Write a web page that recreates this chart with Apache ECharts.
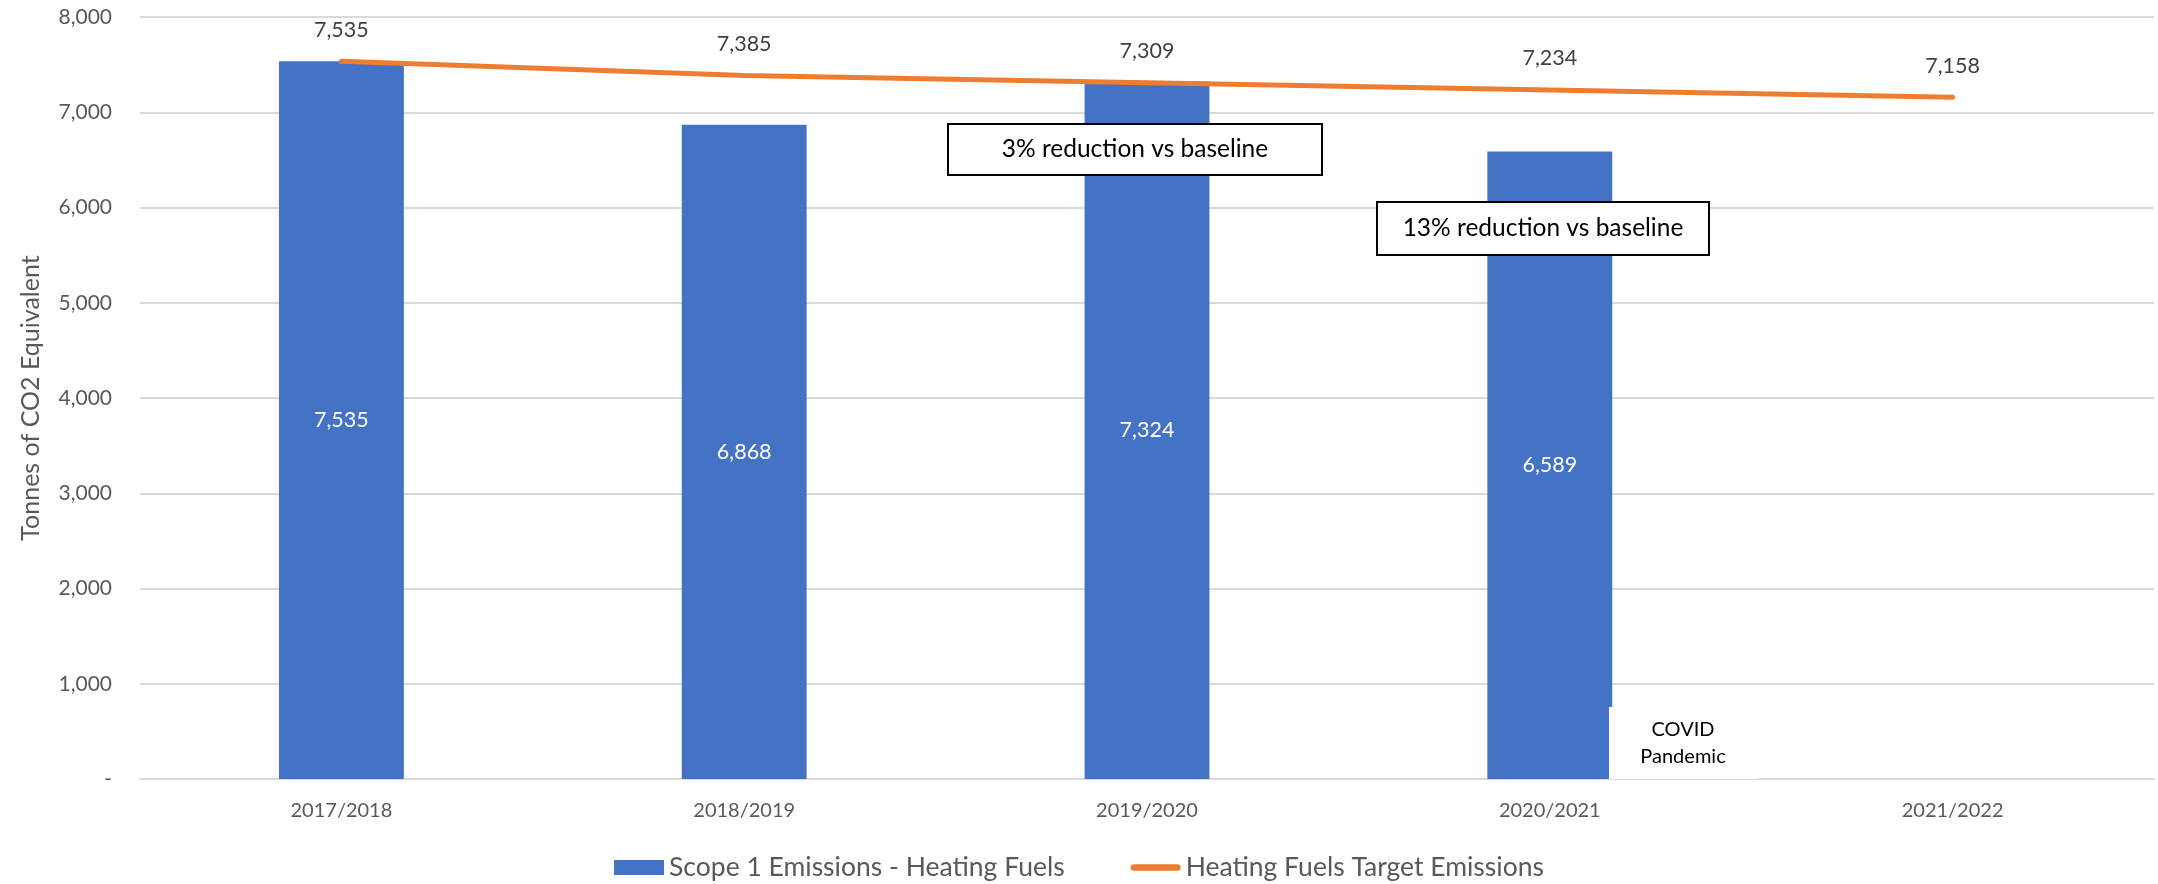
<!DOCTYPE html>
<html>
<head>
<meta charset="utf-8">
<script src="https://cdn.jsdelivr.net/npm/echarts@6/dist/echarts.min.js"></script>
<style>
  html, body { margin: 0; padding: 0; background: #fff; }
  #chart { width: 2158px; height: 884px; }
</style>
</head>
<body>
<div id="chart"></div>
<script>
var years = ['2017/2018', '2018/2019', '2019/2020', '2020/2021', '2021/2022'];
var heatingFuels = [7535, 6868, 7324, 6589, null];
var targetEmissions = [7535, 7385, 7309, 7234, 7158];
var yTicks = [0, 1000, 2000, 3000, 4000, 5000, 6000, 7000, 8000];

var FONT = 'Lato';

function fmt(v) {
    if (v === 0) return '-';
    return String(v).replace(/\B(?=(\d{3})+(?!\d))/g, ',');
}

var chart = echarts.init(document.getElementById('chart'));

var option = {
    animation: false,
    textStyle: { fontFamily: FONT },
    grid: { left: 140, right: 4, top: 17, bottom: 105 },
    legend: {
        top: 849,
        left: 'center',
        itemGap: 66,
        itemWidth: 50,
        itemHeight: 15,
        textStyle: { fontSize: 26.5, color: '#595959', fontFamily: FONT },
        data: [
            { name: 'Scope 1 Emissions - Heating Fuels', icon: 'rect' },
            { name: 'Heating Fuels Target Emissions',
              icon: 'path://M3.5,0 L50.5,0 A3.5,3.5 0 0 1 50.5,7 L3.5,7 A3.5,3.5 0 0 1 3.5,0 Z' }
        ]
    },
    xAxis: {
        type: 'category',
        data: years,
        axisLine: { lineStyle: { color: '#D9D9D9', width: 2 } },
        axisTick: { show: false },
        axisLabel: { color: '#595959', fontSize: 20, margin: 22 }
    },
    yAxis: {
        type: 'value',
        min: yTicks[0],
        max: yTicks[yTicks.length - 1],
        interval: 1000,
        name: 'Tonnes of CO2 Equivalent',
        nameLocation: 'middle',
        nameGap: 97,
        nameTextStyle: { color: '#595959', fontSize: 25 },
        axisLine: { show: false },
        axisTick: { show: false },
        splitLine: { lineStyle: { color: '#D9D9D9', width: 2 } },
        axisLabel: { color: '#595959', fontSize: 21, margin: 28, formatter: fmt }
    },
    series: [
        {
            name: 'Scope 1 Emissions - Heating Fuels',
            type: 'bar',
            data: heatingFuels,
            barWidth: '31%',
            itemStyle: { color: '#4472C4' },
            label: {
                show: true,
                position: 'inside',
                color: '#fff',
                fontSize: 21.5,
                formatter: function (p) { return fmt(p.value); }
            }
        },
        {
            name: 'Heating Fuels Target Emissions',
            type: 'line',
            data: targetEmissions,
            symbol: 'circle',
            symbolSize: 1,
            z: 5,
            lineStyle: { color: '#ED7D31', width: 5, cap: 'round' },
            itemStyle: { color: '#ED7D31' },
            label: {
                show: true,
                position: 'top',
                distance: 20,
                color: '#404040',
                fontSize: 21.5,
                formatter: function (p) { return fmt(p.value); }
            }
        }
    ],
    graphic: [
        {
            type: 'rect',
            shape: { x: 948, y: 124, width: 374, height: 51 },
            style: { fill: '#fff', stroke: '#000', lineWidth: 2 },
            z: 10
        },
        {
            type: 'text',
            x: 1135, y: 149,
            style: { text: '3% reduction vs baseline', fill: '#000', fontSize: 24.5, fontFamily: FONT, align: 'center', verticalAlign: 'middle' },
            z: 11
        },
        {
            type: 'rect',
            shape: { x: 1377, y: 202, width: 332, height: 53 },
            style: { fill: '#fff', stroke: '#000', lineWidth: 2 },
            z: 10
        },
        {
            type: 'text',
            x: 1543, y: 228,
            style: { text: '13% reduction vs baseline', fill: '#000', fontSize: 24.5, fontFamily: FONT, align: 'center', verticalAlign: 'middle' },
            z: 11
        },
        {
            type: 'rect',
            shape: { x: 1609, y: 707, width: 150, height: 72 },
            style: { fill: '#fff' },
            z: 10
        },
        {
            type: 'text',
            x: 1683, y: 743,
            style: { text: 'COVID\nPandemic', fill: '#000', fontSize: 20, lineHeight: 27, fontFamily: FONT, align: 'center', verticalAlign: 'middle' },
            z: 11
        }
    ]
};

chart.setOption(option);
</script>
</body>
</html>
